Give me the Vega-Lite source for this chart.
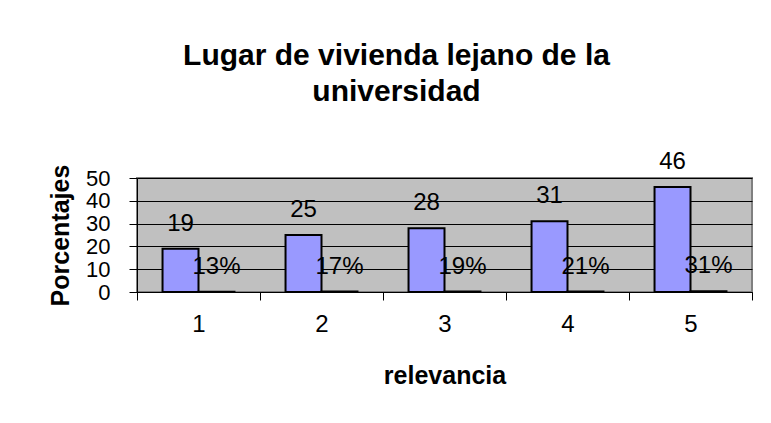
{
  "$schema": "https://vega.github.io/schema/vega-lite/v6.json",
  "width": 615,
  "height": 114,
  "autosize": {"type": "none"},
  "padding": {"left": 137, "top": 178, "right": 19, "bottom": 131},
  "background": "white",
  "title": {
    "text": ["Lugar de vivienda lejano de la", "universidad"],
    "font": "Liberation Sans",
    "fontSize": 30,
    "fontWeight": "bold",
    "color": "black",
    "lineHeight": 36,
    "anchor": "middle",
    "dx": -48,
    "offset": 43
  },
  "data": {
    "values": [
      {"relevancia": "1", "serie": "Frecuencia", "valor": 19, "etiqueta": "19"},
      {"relevancia": "1", "serie": "Porcentaje", "valor": 0.13, "etiqueta": "13%"},
      {"relevancia": "2", "serie": "Frecuencia", "valor": 25, "etiqueta": "25"},
      {"relevancia": "2", "serie": "Porcentaje", "valor": 0.17, "etiqueta": "17%"},
      {"relevancia": "3", "serie": "Frecuencia", "valor": 28, "etiqueta": "28"},
      {"relevancia": "3", "serie": "Porcentaje", "valor": 0.19, "etiqueta": "19%"},
      {"relevancia": "4", "serie": "Frecuencia", "valor": 31, "etiqueta": "31"},
      {"relevancia": "4", "serie": "Porcentaje", "valor": 0.21, "etiqueta": "21%"},
      {"relevancia": "5", "serie": "Frecuencia", "valor": 46, "etiqueta": "46"},
      {"relevancia": "5", "serie": "Porcentaje", "valor": 0.31, "etiqueta": "31%"}
    ]
  },
  "encoding": {
    "x": {
      "field": "relevancia",
      "type": "ordinal",
      "scale": {"paddingInner": 0, "paddingOuter": 0},
      "axis": {
        "title": "relevancia",
        "labelAngle": 0,
        "tickBand": "extent",
        "tickSize": 8,
        "labelPadding": 12,
        "labelFont": "Liberation Sans",
        "labelFontSize": 24,
        "labelColor": "black",
        "titleFont": "Liberation Sans",
        "titleFontSize": 25,
        "titleFontWeight": "bold",
        "titleColor": "black",
        "titlePadding": 27,
        "domainColor": "black",
        "tickColor": "black",
        "grid": false
      }
    },
    "xOffset": {
      "field": "serie",
      "type": "nominal",
      "sort": ["Frecuencia", "Porcentaje"],
      "scale": {"paddingInner": 0, "paddingOuter": 0.71}
    },
    "y": {
      "field": "valor",
      "type": "quantitative",
      "scale": {"domain": [0, 50]},
      "axis": {
        "title": "Porcentajes",
        "values": [0, 10, 20, 30, 40, 50],
        "tickSize": 8,
        "labelPadding": 19,
        "labelFont": "Liberation Sans",
        "labelFontSize": 22,
        "labelColor": "black",
        "labelOverlap": false,
        "labelFlush": false,
        "labelBound": false,
        "titleFont": "Liberation Sans",
        "titleFontSize": 25,
        "titleFontWeight": "bold",
        "titleColor": "black",
        "titlePadding": 12,
        "grid": true,
        "gridColor": "black",
        "gridOpacity": 1,
        "gridWidth": 1,
        "domainColor": "black",
        "tickColor": "black"
      }
    }
  },
  "layer": [
    {
      "mark": {"type": "bar", "stroke": "black", "strokeWidth": 2},
      "encoding": {
        "fill": {
          "field": "serie",
          "type": "nominal",
          "scale": {"domain": ["Frecuencia", "Porcentaje"], "range": ["#9999FF", "#993366"]},
          "legend": null
        }
      }
    },
    {
      "mark": {"type": "text", "dy": -18, "baseline": "alphabetic", "font": "Liberation Sans", "fontSize": 24, "color": "black"},
      "encoding": {"text": {"field": "etiqueta"}}
    }
  ],
  "config": {
    "view": {"fill": "#C0C0C0", "stroke": "#808080", "strokeWidth": 2}
  }
}
